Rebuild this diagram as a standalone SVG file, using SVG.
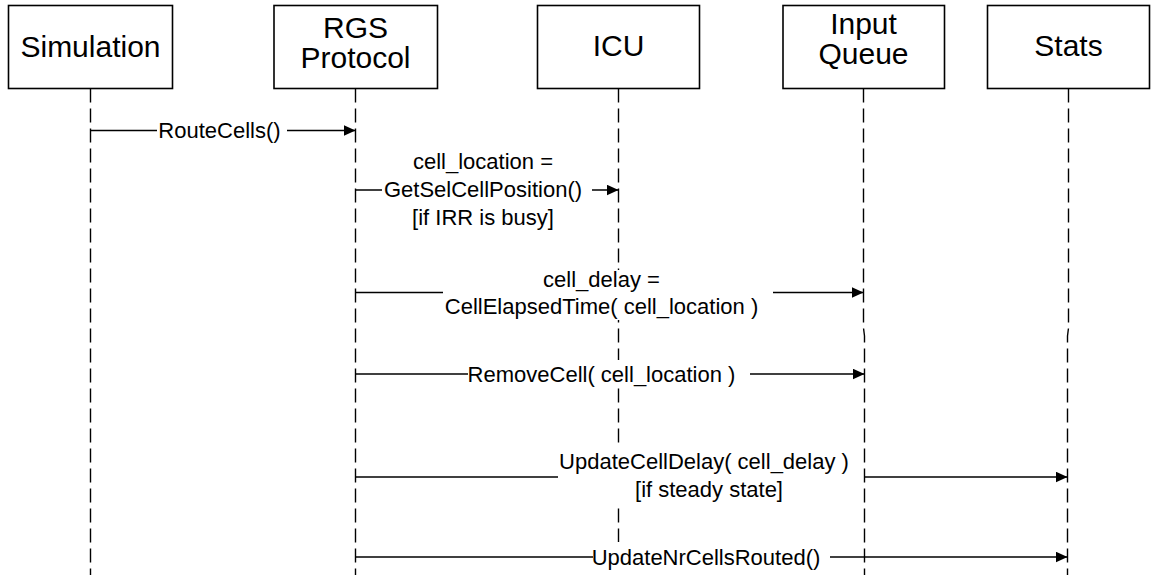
<svg xmlns="http://www.w3.org/2000/svg" width="1152" height="575" viewBox="0 0 1152 575">
<style>
.box{fill:#fff;stroke:#000;stroke-width:1.6}
.life{fill:none;stroke:#000;stroke-width:1.4;stroke-dasharray:14 6}
.hdr{font-family:"Liberation Sans",Arial,sans-serif;font-size:30px;fill:#000;text-anchor:middle}
.lbl{font-family:"Liberation Sans",Arial,sans-serif;font-size:22px;fill:#000;text-anchor:middle}
.msg{fill:none;stroke:#000;stroke-width:1.5}
.bg{fill:#fff;stroke:none}
</style>
<defs>
<marker id="arr" markerUnits="userSpaceOnUse" markerWidth="13" markerHeight="12" refX="12" refY="5.5" orient="auto">
<path d="M0,0 L12,5.5 L0,11 z" fill="#000"/>
</marker>
</defs>
<rect width="1152" height="575" fill="#fff"/>
<g id="simulation">
<rect class="box" x="8.5" y="5.5" width="164" height="83"/>
<path class="life" d="M90.5,88.5 V575"/>
<text class="hdr" x="90.5" y="57">Simulation</text>
</g>
<g id="rgs-protocol">
<rect class="box" x="274" y="5.5" width="163.5" height="83"/>
<path class="life" d="M355.5,88.5 V575"/>
<text class="hdr" x="355.5" y="38">RGS</text>
<text class="hdr" x="355.5" y="68">Protocol</text>
</g>
<g id="icu">
<rect class="box" x="537.5" y="5.5" width="162" height="83"/>
<path class="life" d="M618.5,88.5 V575"/>
<text class="hdr" x="618.5" y="56">ICU</text>
</g>
<g id="input-queue">
<rect class="box" x="783" y="5.5" width="161.5" height="83"/>
<path class="life" d="M863.5,88.5 V328 L864.5,336 V575"/>
<text class="hdr" x="863.5" y="34">Input</text>
<text class="hdr" x="863.5" y="64">Queue</text>
</g>
<g id="stats">
<rect class="box" x="987.5" y="5.5" width="162" height="83"/>
<path class="life" d="M1068.5,88.5 V328 L1067.5,336 V575"/>
<text class="hdr" x="1068.5" y="56">Stats</text>
</g>
<g id="connectors">
<g id="m1">
<path class="msg" d="M90.5,130.5 H157"/>
<path class="msg" d="M287,130.5 H355.5" marker-end="url(#arr)"/>
<text class="lbl" x="219.5" y="138">RouteCells()</text>
</g>
<g id="m2">
<path class="msg" d="M355.5,190 H382"/>
<path class="msg" d="M592,190 H618.5" marker-end="url(#arr)"/>
<text class="lbl" x="483" y="169">cell_location =</text>
<text class="lbl" x="483" y="197">GetSelCellPosition()</text>
<text class="lbl" x="483" y="225">[if IRR is busy]</text>
</g>
<g id="m3">
<rect class="bg" x="444" y="270" width="316" height="50"/>
<path class="msg" d="M355.5,292.5 H443"/>
<path class="msg" d="M773,292.5 H863.5" marker-end="url(#arr)"/>
<text class="lbl" x="601.5" y="287">cell_delay =</text>
<text class="lbl" x="601.5" y="314">CellElapsedTime( cell_location )</text>
</g>
<g id="m4">
<rect class="bg" x="469" y="360" width="268" height="28"/>
<path class="msg" d="M355.5,374 H468"/>
<path class="msg" d="M750,374 H864.5" marker-end="url(#arr)"/>
<text class="lbl" x="601.5" y="382">RemoveCell( cell_location )</text>
</g>
<g id="m5">
<rect class="bg" x="559" y="446" width="300" height="57"/>
<path class="msg" d="M355.5,477 H558"/>
<path class="msg" d="M864.5,477 H1067.5" marker-end="url(#arr)"/>
<text class="lbl" x="704" y="469">UpdateCellDelay( cell_delay )</text>
<text class="lbl" x="709" y="497">[if steady state]</text>
</g>
<g id="m6">
<rect class="bg" x="594" y="542" width="234" height="33"/>
<path class="msg" d="M355.5,557 H593"/>
<path class="msg" d="M830,557 H1067.5" marker-end="url(#arr)"/>
<text class="lbl" x="706" y="565">UpdateNrCellsRouted()</text>
</g>
</g>
</svg>
